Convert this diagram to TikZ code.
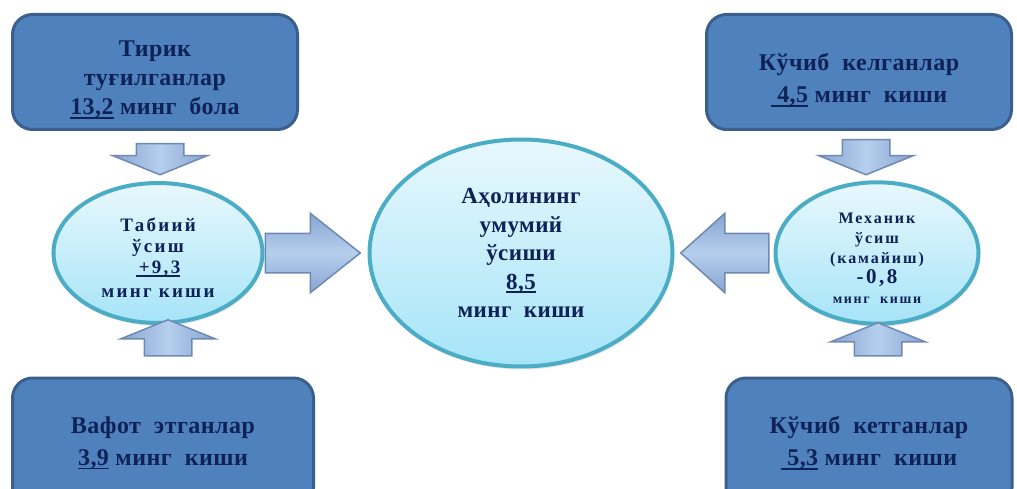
\documentclass[tikz,border=0pt]{standalone}
\usepackage{fontspec}
\setmainfont{Liberation Serif}[LetterSpace=2]
\newfontfamily\widefont{Liberation Serif}[LetterSpace=12]
\usetikzlibrary{positioning}
\usetikzlibrary{shapes.geometric}
\usetikzlibrary{shapes.arrows}
\usetikzlibrary{shadows}

\definecolor{boxfill}{HTML}{4F81BD}
\definecolor{boxline}{HTML}{3A5F8C}
\definecolor{inktext}{HTML}{0E2258}
\definecolor{ringline}{HTML}{4BACC6}
\definecolor{ringtop}{HTML}{E8F8FD}
\definecolor{ringbot}{HTML}{A6E4F8}
\definecolor{arrowline}{HTML}{6F8AB2}
\definecolor{arrowedge}{HTML}{88A5D0}
\definecolor{arrowmid}{HTML}{B6CFEE}

% thick underline under the figures
\newcommand{\numul}[1]{\setbox0\hbox{#1}\rlap{\rule[-4pt]{\wd0}{1.8pt}}\box0\relax}

\begin{document}
\begin{tikzpicture}[ x                 = 1pt
                   , y                 = -1pt
                   , text              = inktext
                   , every node/.style = { align = center }
                   ]
  \useasboundingbox (0,0) rectangle (1017,489);

  %%
  %% Node types
  %%
  \tikzset{ flowbox/.style={ rectangle, rounded corners=20pt, draw=boxline
                           , line width=3pt, fill=boxfill, minimum height=115pt
                           , font=\fontsize{24}{32}\selectfont\bfseries }
          , growth/.style={ ellipse, draw=ringline, line width=4pt, inner sep=0pt
                          , top color=ringtop, bottom color=ringbot
                          , drop shadow={opacity=0.2, shadow xshift=1pt, shadow yshift=-3pt} }
          }

  %%
  %% Arrow types
  %%
  \tikzset{ barrow/.style={ single arrow, draw=arrowline, line width=1.5pt
                          , inner sep=0pt, single arrow head indent=0pt, anchor=tail }
          , sidearrow/.style={ barrow, top color=arrowedge, bottom color=arrowedge
                             , middle color=arrowmid, inner ysep=19pt
                             , single arrow head extend=20pt }
          , vertarrow/.style={ barrow, left color=arrowedge, right color=arrowedge
                             , middle color=arrowmid, inner xsep=23pt
                             , single arrow head extend=23.5pt, single arrow tip angle=136 }
          }

  %%
  %% Nodes
  %%
  \node (tot)  [growth, minimum width=303pt, minimum height=227pt
               , font=\fontsize{23}{28.5}\selectfont\bfseries] at (521,253)
               {Аҳолининг\\умумий\\ўсиши\\\numul{8,5}\\минг\ \ киши};
  \node (nat)  [growth, minimum width=209pt, minimum height=140pt
               , font=\fontsize{19}{21}\selectfont\widefont\bfseries, left = 103pt of tot]
               {\rule{0pt}{22pt}Табиий\\ўсиш\\\numul{\,+9,3}\\[3pt]минг киши};
  \node (mech) [growth, minimum width=203pt, minimum height=139pt
               , font=\fontsize{16}{20}\selectfont\widefont\bfseries, right = 99pt of tot]
               {\rule{0pt}{20pt}Механик\\ўсиш\\(камайиш)\\{\fontsize{21}{21}\selectfont -0,8}\\{\fontsize{14}{20}\selectfont минг\ \ киши}};

  \node (born) [flowbox, minimum width=285pt, font=\fontsize{24}{29}\selectfont\bfseries] at (155,72)
               {\rule{0pt}{32pt}Тирик\\туғилганлар\\\numul{13,2} минг\ \ бола};
  \node (came) [flowbox, minimum width=305pt] at (859,72)
               {\rule{0pt}{34pt}Кўчиб\ \ келганлар\\\numul{\ 4,5} минг\ \ киши};
  \node (died) [flowbox, minimum width=301pt, minimum height=130pt] at (163,443)
               {Вафот\ \ этганлар\\\numul{3,9} минг\ \ киши};
  \node (gone) [flowbox, minimum width=286pt, minimum height=130pt] at (869,443)
               {Кўчиб\ \ кетганлар\\\numul{\ 5,3} минг\ \ киши};

  %%
  %% Block arrows between nodes
  %%
  \node (a1) [sidearrow, minimum height=95pt, single arrow tip angle=77] at (nat.east) {};
  \node (a2) [sidearrow, minimum height=88pt, single arrow tip angle=84, shape border rotate=180]
             at ([xshift=-4pt]mech.west) {};

  \node (a3) [vertarrow, minimum height=31pt, shape border rotate=270]
             at ([xshift=5pt,yshift=-12pt]born.south) {};
  \node (a4) [vertarrow, minimum height=36pt, shape border rotate=90]
             at ([xshift=5pt,yshift=20pt]died.north) {};
  \node (a5) [vertarrow, minimum height=35pt, shape border rotate=270]
             at ([xshift=7pt,yshift=-8pt]came.south) {};
  \node (a6) [vertarrow, minimum height=33pt, shape border rotate=90]
             at ([xshift=9pt,yshift=20pt]gone.north) {};

\end{tikzpicture}
\end{document}
